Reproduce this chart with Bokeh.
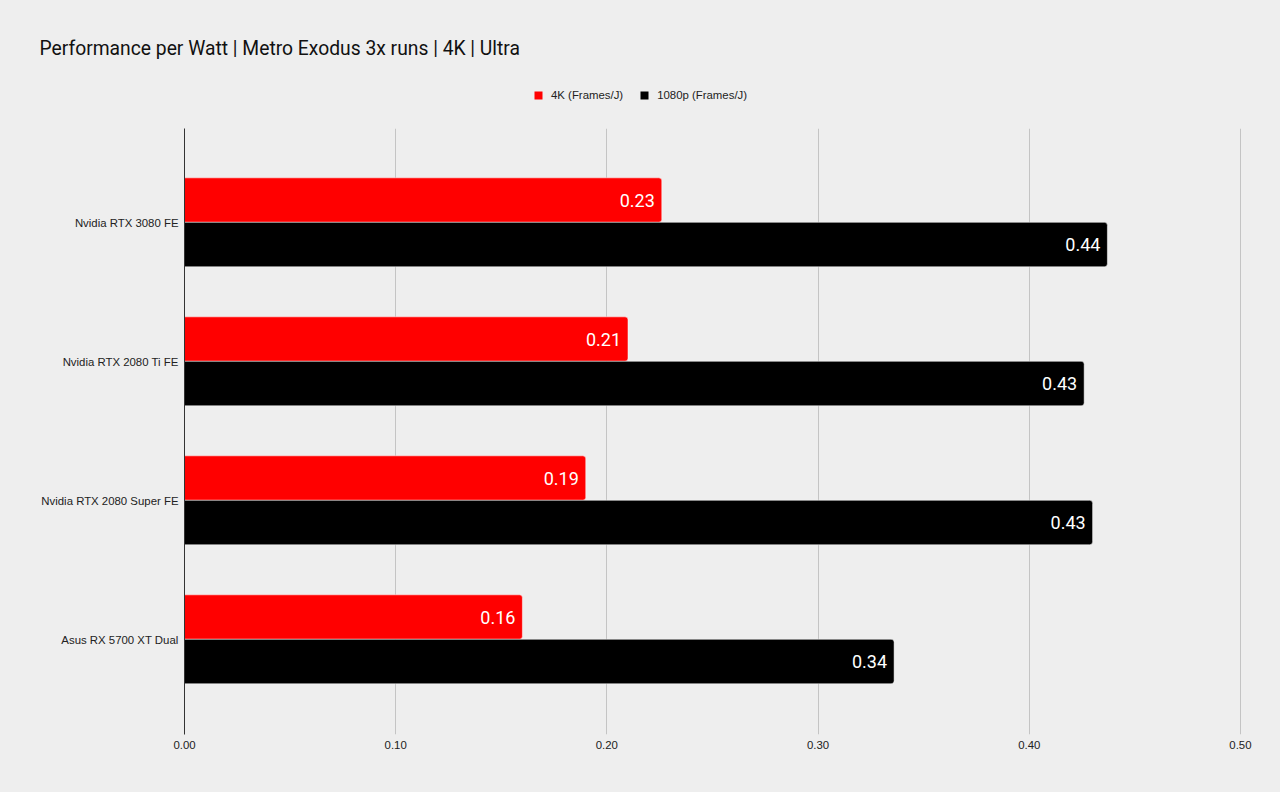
from bokeh.plotting import figure
from bokeh.layouts import column
from bokeh.models import (FactorRange, Range1d, Legend, LegendItem, ColumnDataSource,
                          FixedTicker, NumeralTickFormatter)
from bokeh.transform import dodge
from bokeh.core.properties import value
from bokeh.embed import file_html
from bokeh.resources import INLINE

chart_title = "Performance per Watt | Metro Exodus 3x runs | 4K | Ultra"
gpus = ["Nvidia RTX 3080 FE", "Nvidia RTX 2080 Ti FE", "Nvidia RTX 2080 Super FE", "Asus RX 5700 XT Dual"]
eff_4k = [0.226, 0.210, 0.190, 0.160]
eff_1080p = [0.437, 0.426, 0.430, 0.336]
series_names = ["4K (Frames/J)", "1080p (Frames/J)"]
series_colors = ["#ff0000", "#000000"]
x_ticks = [0.0, 0.1, 0.2, 0.3, 0.4, 0.5]

FONT = "Roboto"
AXFONT = "Liberation Sans"
AXSIZE = "11.4px"
BG = "#eeeeee"

src = ColumnDataSource(dict(
    gpu=gpus,
    k4=eff_4k,
    p1080=eff_1080p,
    k4_lbl=[f"{v:.2f}" for v in eff_4k],
    p1080_lbl=[f"{v:.2f}" for v in eff_1080p],
))

# ---- header figure: title + legend ----
head = figure(
    width=1280, height=128,
    x_range=Range1d(0, 1), y_range=Range1d(0, 1),
    output_backend="svg", toolbar_location=None,
    x_axis_location=None, y_axis_location=None,
    min_border_left=0, min_border_right=0, min_border_top=64, min_border_bottom=0,
    background_fill_color=BG, border_fill_color=BG, outline_line_color=None,
    title=chart_title,
)
head.grid.visible = False
head.title.text_font = FONT
head.title.text_font_size = "19.3px"
head.title.text_font_style = "normal"
head.title.text_color = "#111111"
head.title.offset = -145
head.title.standoff = 10

# legend keys only (zero-width, never visible in the header)
key_src = ColumnDataSource(dict(y=[0.5], right=[0.0]))
k1 = head.hbar(y="y", right="right", left=0, height=0.5, source=key_src,
               fill_color=series_colors[0], line_color=None)
k2 = head.hbar(y="y", right="right", left=0, height=0.5, source=key_src,
               fill_color=series_colors[1], line_color=None)

legend = Legend(
    items=[LegendItem(label=series_names[0], renderers=[k1]),
           LegendItem(label=series_names[1], renderers=[k2])],
    orientation="horizontal", location=(349, 27),
    glyph_width=10, glyph_height=10, label_standoff=8, spacing=16,
    label_text_font=AXFONT, label_text_font_size=AXSIZE, label_text_color="#222222",
    label_height=10, padding=0, margin=0,
    background_fill_alpha=0, border_line_color=None,
)
head.add_layout(legend, "center")

# ---- main chart ----
p = figure(
    width=1280, height=664,
    y_range=FactorRange(factors=list(reversed(gpus)), range_padding=0.18, range_padding_units="absolute"),
    x_range=Range1d(0, 0.5005),
    output_backend="svg", toolbar_location=None,
    min_border_left=184, min_border_right=39, min_border_top=0, min_border_bottom=58,
    background_fill_color=BG, border_fill_color=BG, outline_line_color=None,
)

p.hbar(y=dodge("gpu", 0.165, range=p.y_range), left=0, right="k4", height=0.32, source=src,
       fill_color=series_colors[0], line_color="#ffffff", line_alpha=0.5, line_width=1,
       border_radius=(0, 3, 3, 0))
p.hbar(y=dodge("gpu", -0.155, range=p.y_range), left=0, right="p1080", height=0.32, source=src,
       fill_color=series_colors[1], line_color="#ffffff", line_alpha=0.5, line_width=1,
       border_radius=(0, 3, 3, 0))

p.text(x="k4", y=dodge("gpu", 0.165, range=p.y_range), text="k4_lbl", source=src,
       x_offset=-7, text_align="right", text_baseline="middle", text_color="white",
       text_font=value(FONT), text_font_size="18px")
p.text(x="p1080", y=dodge("gpu", -0.155, range=p.y_range), text="p1080_lbl", source=src,
       x_offset=-7, text_align="right", text_baseline="middle", text_color="white",
       text_font=value(FONT), text_font_size="18px")

# x axis
p.xaxis.ticker = FixedTicker(ticks=x_ticks)
p.xaxis.formatter = NumeralTickFormatter(format="0.00")
p.xaxis.axis_line_color = None
p.xaxis.major_tick_line_color = None
p.xaxis.minor_tick_line_color = None
p.xaxis.major_tick_out = 0
p.xaxis.major_label_standoff = 6
p.xaxis.major_label_text_font = AXFONT
p.xaxis.major_label_text_font_size = AXSIZE
p.xaxis.major_label_text_color = "#222222"

# y axis
p.yaxis.axis_line_color = "#333333"
p.yaxis.axis_line_width = 1
p.yaxis.major_tick_line_color = None
p.yaxis.minor_tick_line_color = None
p.yaxis.major_tick_out = 0
p.yaxis.major_label_standoff = 6
p.yaxis.major_label_text_font = AXFONT
p.yaxis.major_label_text_font_size = AXSIZE
p.yaxis.major_label_text_color = "#222222"

p.xgrid.grid_line_color = "#c4c4c4"
p.xgrid.grid_line_width = 1
p.ygrid.grid_line_color = None

layout = column(head, p, spacing=0)
html = file_html(layout, INLINE)
html = html.replace("<head>", "<head><style>html,body{background:#eeeeee;}</style>", 1)
open("out.html", "w").write(html)
